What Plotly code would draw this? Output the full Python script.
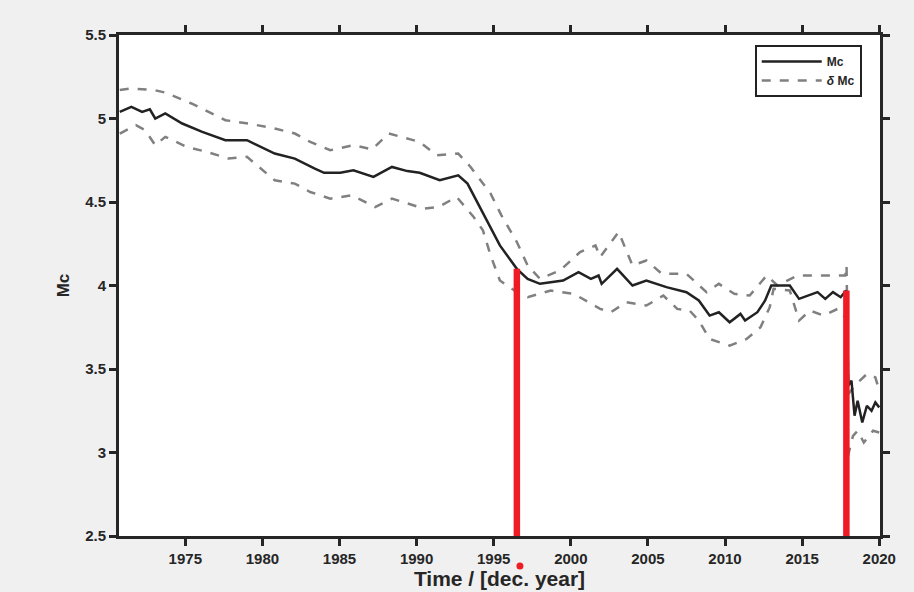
import plotly.graph_objects as go

# Mc central estimate
mc_year = [1970.75, 1971.5, 1972.2, 1972.7, 1973.05, 1973.7, 1974.8, 1976.1, 1977.6, 1979.0,
           1980.8, 1982.1, 1983.4, 1984.0, 1985.05, 1985.9, 1987.2, 1988.4, 1989.4, 1990.2,
           1991.5, 1992.7, 1993.3, 1994.1, 1994.8, 1995.4, 1996.5, 1997.2, 1998.0, 1999.5,
           2000.5, 2001.3, 2001.8, 2002.0, 2003.0, 2004.0, 2004.9, 2006.2, 2007.5, 2008.3,
           2009.0, 2009.6, 2010.3, 2011.0, 2011.3, 2012.1, 2012.6, 2013.0, 2014.2, 2014.8,
           2016.0, 2016.5, 2017.0, 2017.5, 2017.85, 2018.0, 2018.2, 2018.4, 2018.6, 2018.9,
           2019.2, 2019.5, 2019.75, 2020.0]
mc_val = [5.04, 5.07, 5.04, 5.055, 5.00, 5.03, 4.97, 4.92, 4.87, 4.87,
          4.79, 4.76, 4.70, 4.675, 4.675, 4.69, 4.65, 4.71, 4.685, 4.675,
          4.63, 4.66, 4.61, 4.47, 4.34, 4.24, 4.10, 4.04, 4.01, 4.03,
          4.08, 4.04, 4.06, 4.01, 4.10, 4.00, 4.03, 3.99, 3.96, 3.91,
          3.82, 3.84, 3.78, 3.83, 3.79, 3.84, 3.91, 4.00, 4.00, 3.92,
          3.96, 3.92, 3.96, 3.93, 3.97, 3.40, 3.43, 3.22, 3.31, 3.18,
          3.28, 3.25, 3.30, 3.27]

# delta Mc upper bound
up_year = [1970.75, 1971.5, 1973.0, 1973.7, 1975.4, 1977.6, 1979.1, 1980.8, 1982.1, 1983.1,
           1984.4, 1985.9, 1987.1, 1988.2, 1989.6, 1990.2, 1991.3, 1992.7, 1993.5, 1994.8,
           1995.5, 1996.5, 1997.2, 1998.0, 1999.3, 2000.6, 2001.6, 2001.9, 2003.1, 2004.0,
           2004.9, 2005.9, 2007.5, 2008.8, 2009.6, 2010.6, 2011.6, 2012.7, 2013.4, 2014.7,
           2016.4, 2017.8, 2017.88, 2018.0, 2018.4, 2019.2, 2019.75, 2020.0]
up_val = [5.17, 5.18, 5.17, 5.155, 5.09, 4.99, 4.97, 4.94, 4.91, 4.86,
          4.81, 4.84, 4.815, 4.91, 4.875, 4.86, 4.78, 4.79, 4.71, 4.55,
          4.42, 4.26, 4.12, 4.04, 4.09, 4.20, 4.24, 4.17, 4.32, 4.12,
          4.15, 4.07, 4.07, 3.96, 4.01, 3.95, 3.94, 4.06, 4.00, 4.06,
          4.06, 4.06, 4.12, 3.35, 3.40, 3.47, 3.45, 3.37]

# delta Mc lower bound
lo_year = [1970.75, 1971.8, 1972.4, 1973.05, 1973.7, 1975.1, 1976.4, 1977.8, 1979.0, 1980.8,
           1982.1, 1983.1, 1984.4, 1985.8, 1987.3, 1988.4, 1990.5, 1991.4, 1992.6, 1993.7,
           1994.3, 1994.8, 1995.4, 1996.5, 1997.2, 1998.7, 2000.2, 2001.9, 2002.6, 2003.6,
           2004.9, 2006.0, 2006.9, 2007.7, 2008.3, 2009.0, 2010.3, 2011.4, 2012.3, 2012.9,
           2013.15, 2014.2, 2014.8, 2015.5, 2016.4, 2017.3, 2017.8, 2017.95, 2018.3, 2018.6,
           2019.0, 2019.6, 2020.0]
lo_val = [4.91, 4.96, 4.93, 4.84, 4.89, 4.83, 4.80, 4.76, 4.77, 4.63,
          4.61, 4.56, 4.52, 4.54, 4.47, 4.52, 4.46, 4.47, 4.53, 4.41,
          4.33, 4.18, 4.03, 3.96, 3.93, 3.97, 3.95, 3.86, 3.84, 3.90,
          3.88, 3.94, 3.86, 3.85, 3.79, 3.68, 3.64, 3.68, 3.75, 3.87,
          3.98, 3.97, 3.79, 3.85, 3.82, 3.86, 3.81, 2.97, 3.10, 3.13,
          3.06, 3.13, 3.12]

# change points (red bars)
change_year = [1996.5, 2017.87]
change_mc = [4.10, 3.97]
marker_year = [1996.7]
marker_val = [2.32]

x_ticks = [1975, 1980, 1985, 1990, 1995, 2000, 2005, 2010, 2015, 2020]
y_ticks = [2.5, 3, 3.5, 4, 4.5, 5, 5.5]
x_range = [1970.7, 2020.05]
y_range = [2.5, 5.5]

FONT = "Liberation Sans, Arial, sans-serif"
TXT = "#262626"

fig = go.Figure()

fig.add_trace(go.Scatter(x=up_year, y=up_val, mode="lines", name="<b><i>δ</i> Mc</b>",
                         legendgroup="d", line=dict(color="#808080", width=2.5, dash="dash"),
                         legendrank=2))
fig.add_trace(go.Scatter(x=lo_year, y=lo_val, mode="lines", showlegend=False,
                         legendgroup="d", line=dict(color="#808080", width=2.5, dash="dash")))
fig.add_trace(go.Scatter(x=mc_year, y=mc_val, mode="lines", name="<b>Mc</b>",
                         line=dict(color="#222222", width=2.5), legendrank=1))

for yr, v in zip(change_year, change_mc):
    fig.add_trace(go.Scatter(x=[yr, yr], y=[y_range[0], v], mode="lines", showlegend=False,
                             line=dict(color="#ee1c25", width=6.5)))

# small red dot below the axis (outside the plotting range -> pixel-sized shape)
for yr, v in zip(marker_year, marker_val):
    fig.add_shape(type="circle", xref="x", yref="paper",
                  xsizemode="pixel", ysizemode="pixel",
                  xanchor=yr, yanchor=(v - y_range[0]) / (y_range[1] - y_range[0]),
                  x0=-3.5, x1=3.5, y0=-3.5, y1=3.5,
                  fillcolor="#ee1c25", line=dict(width=0), layer="above")

fig.update_layout(
    width=914, height=592,
    margin=dict(l=119, r=34, t=35, b=56),
    paper_bgcolor="#f0f0f0",
    plot_bgcolor="white",
    font=dict(family=FONT, color=TXT, size=13),
    showlegend=True,
    legend=dict(x=0.976, y=0.98, xanchor="right", yanchor="top",
                bgcolor="white", bordercolor="#222222", borderwidth=2,
                font=dict(size=12, family=FONT, color=TXT),
                itemwidth=60, tracegroupgap=0),
)
fig.update_xaxes(range=x_range, tickvals=x_ticks, automargin=False,
                 showline=True, linecolor="#262626", linewidth=3, mirror="allticks",
                 ticks="outside", ticklen=7, tickwidth=3, tickcolor="#262626",
                 showgrid=False, zeroline=False,
                 tickfont=dict(size=15, family=FONT, color=TXT, weight="bold"),
                 title=dict(text="<b>Time / [dec. year]</b>", font=dict(size=21), standoff=4))
fig.update_yaxes(range=y_range, tickvals=y_ticks, automargin=False,
                 showline=True, linecolor="#262626", linewidth=3, mirror="allticks",
                 ticks="outside", ticklen=7, tickwidth=3, tickcolor="#262626",
                 showgrid=False, zeroline=False,
                 tickfont=dict(size=15, family=FONT, color=TXT, weight="bold"),
                 title=dict(text="<b>Mc</b>", font=dict(size=17), standoff=12))

fig.write_html("out.html")
